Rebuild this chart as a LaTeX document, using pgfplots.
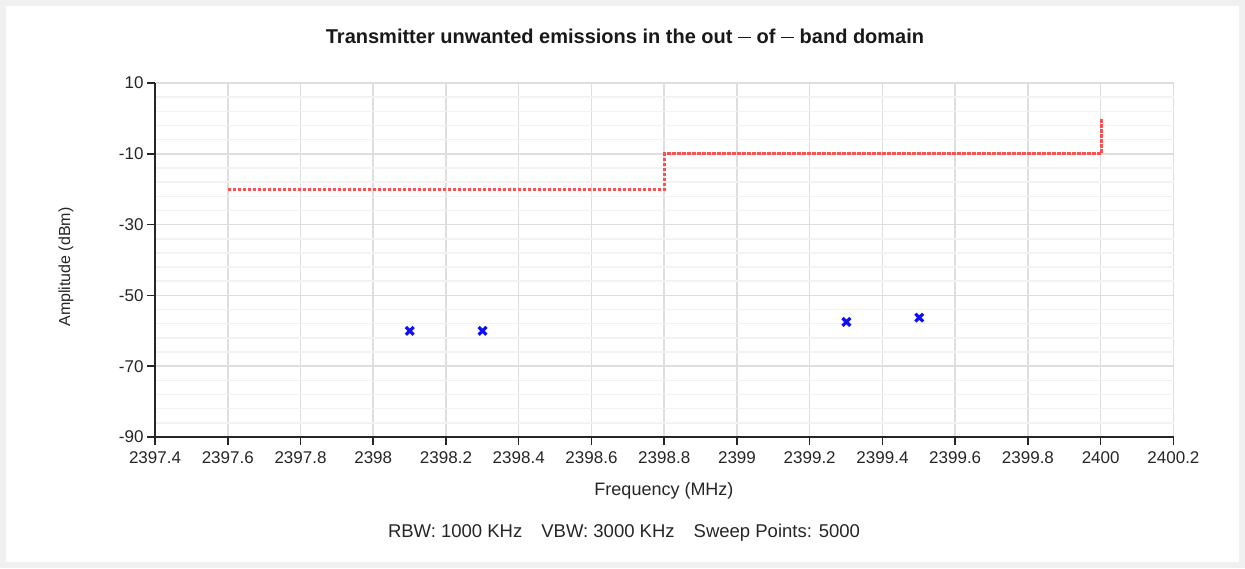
\documentclass[border=0pt]{standalone}
\usepackage{pgfplots}
\pgfplotsset{compat=1.18}
\usepackage{fontspec}
\setmainfont{Liberation Sans}
\definecolor{limred}{RGB}{255,80,80}
\definecolor{mkblue}{RGB}{15,15,250}
\begin{document}
\begin{tikzpicture}[x=1pt,y=1pt]
\fill[gray!12] (-155,-131) rectangle (1090,437);
\fill[white] (-149,-125) rectangle (1084,431);
\begin{axis}[
  at={(0,0)}, anchor=south west,
  scale only axis, width=1019pt, height=354pt,
  xmin=2397.4, xmax=2400.2, ymin=-90, ymax=10,
  xtick={2397.4,2397.6,...,2400.3},
  ytick={-90,-70,-50,-30,-10,10},
  minor x tick num=4, minor y tick num=4,
  axis lines*=left,
  axis line style={black!85, line width=2pt},
  tick align=outside,
  major tick length=8pt, minor tick length=0pt,
  tick style={black!85, line width=1.5pt},
  grid=both,
  major grid style={draw=black!13, line width=1.5pt},
  minor grid style={draw=black!5, line width=1.5pt},
  /pgf/number format/assume math mode=true,
  xticklabel style={/pgf/number format/.cd, fixed, precision=1, set thousands separator={}},
  yticklabel style={/pgf/number format/.cd, fixed, set thousands separator={}},
  ticklabel style={font=\fontsize{17}{19}\selectfont, text=black!85},
  xticklabel shift=3pt,
  yticklabel shift=0pt,
  clip=false,
]
\addplot[limred, line width=2.8pt, dash pattern=on 3.2pt off 1.8pt] coordinates {
 (2397.6,-20) (2398.8,-20) (2398.8,-10) (2400,-10) (2400,0)
};
\addplot[only marks, mark=x, mark size=5.5pt, mkblue, mark options={line width=3.2pt}] coordinates {
 (2398.1,-60) (2398.3,-60) (2399.3,-57.5) (2399.5,-56.3)
};
\end{axis}
\node[font=\fontsize{20}{22}\selectfont\bfseries, text=black!90] at (470,401) {Transmitter unwanted emissions in the out \raisebox{0.45ex}{\rule{13pt}{1.6pt}} of \raisebox{0.45ex}{\rule{13pt}{1.6pt}} band domain};
\node[font=\fontsize{18}{20}\selectfont, text=black!85] at (509,-54) {Frequency (MHz)};
\node[font=\fontsize{16}{18}\selectfont, text=black!85, rotate=90] at (-89,170) {Amplitude (dBm)};
\node[font=\fontsize{18.5}{20}\selectfont, text=black!85] at (469,-96) {RBW: 1000 KHz\hspace{19pt}VBW: 3000 KHz\hspace{19pt}Sweep Points: 5000};
\useasboundingbox (-155,-131) rectangle (1090,437);
\end{tikzpicture}
\end{document}
